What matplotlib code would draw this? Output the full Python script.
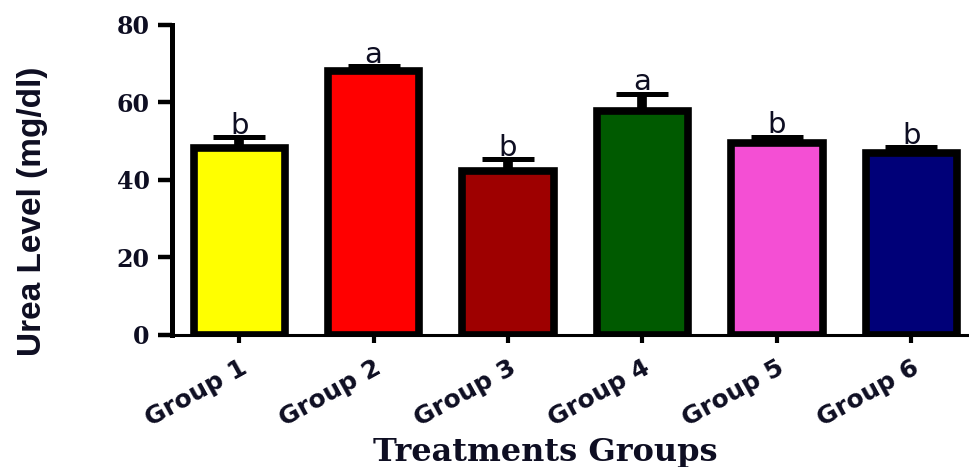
import matplotlib
matplotlib.use("Agg")
import matplotlib.pyplot as plt
import numpy as np

# urea per treatment group, mean and SEM (mg/dl)
groups = ["Group 1", "Group 2", "Group 3", "Group 4", "Group 5", "Group 6"]
urea_mean = [48.2, 68.0, 42.3, 57.9, 49.6, 46.9]
urea_sem = [2.8, 1.5, 3.0, 4.4, 1.6, 1.7]
letters = ["b", "a", "b", "a", "b", "b"]
bar_colors = ["#FFFF00", "#FF0000", "#9E0000", "#005A00", "#F44FD4", "#000078"]

text_color = "#0e0e22"

fig = plt.figure(figsize=(9.69, 4.67), dpi=100)
ax = fig.add_axes([0.1775, 0.2827, 0.8225, 0.6638])

x = np.arange(len(groups))

# upper-only error bars, sitting under the bars so just the top half shows
ax.errorbar(x, urea_mean, yerr=[np.zeros(len(x)), urea_sem], fmt="none",
            ecolor="black", elinewidth=7, capsize=19, capthick=3.6, zorder=1)
ax.bar(x, urea_mean, width=0.68, color=bar_colors, edgecolor="black",
       linewidth=5.5, zorder=2)

for xi, m, s, lab in zip(x, urea_mean, urea_sem, letters):
    ax.text(xi, m + s + 0.8, lab, ha="center", va="baseline",
            fontsize=21, color=text_color, family="DejaVu Sans")

ax.set_xlim(-0.5, 5.43)
ax.set_ylim(0, 80)
ax.set_yticks([0, 20, 40, 60, 80])
ax.set_xticks(x)
ax.set_xticklabels(groups, rotation=29, ha="right", va="top",
                   rotation_mode="anchor", fontsize=18, fontweight="bold",
                   family="DejaVu Sans", color=text_color)
for t in ax.get_yticklabels():
    t.set_fontfamily("DejaVu Serif")
    t.set_fontweight("bold")
    t.set_fontsize(17)
    t.set_color(text_color)

ax.spines["top"].set_visible(False)
ax.spines["right"].set_visible(False)
ax.spines["left"].set_linewidth(3.6)
ax.spines["bottom"].set_linewidth(2.2)
ax.tick_params(axis="y", length=10, width=3.2, pad=6)
ax.tick_params(axis="x", length=6, width=3, pad=9)

ax.set_ylabel("Urea Level (mg/dl)", fontsize=24, family="Liberation Sans",
              fontweight="bold", color=text_color)
ax.yaxis.set_label_coords(-0.155, 0.40)
ax.set_xlabel("Treatments Groups", fontsize=23, fontweight="bold",
              family="DejaVu Serif", color=text_color)
ax.xaxis.set_label_coords(0.469, -0.328)

fig.savefig("out.png", dpi=100)
